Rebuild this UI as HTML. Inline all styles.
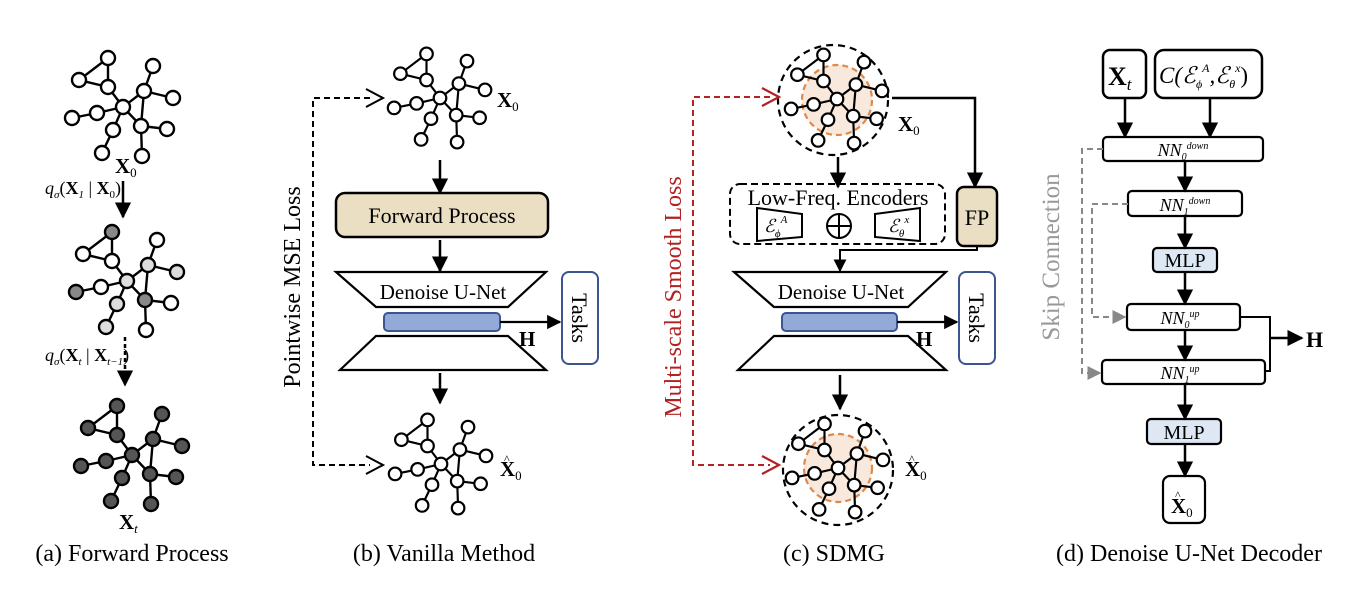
<!DOCTYPE html>
<html><head><meta charset="utf-8"><style>
html,body{margin:0;padding:0;background:#fff;}
svg{display:block;font-family:"Liberation Serif",serif;}
</style></head><body>
<svg width="1372" height="606" viewBox="0 0 1372 606" xmlns="http://www.w3.org/2000/svg">
<defs>
<g id="E" stroke="#000" stroke-width="2.4" fill="none">
<path d="M-15,-49L-44,-27L-15,-20Z M-15,-20L0,0L21,-16L30,-41 M21,-16L50,-9 M21,-16L18,19 M0,0L18,19L44,22 M18,19L19,49 M0,0L-26,6L-51,11 M0,0L-10,23L-21,46"/>
</g>
<g id="NW" fill="#fff" stroke="#000" stroke-width="2.4">
<circle cx="-15" cy="-49" r="7"/><circle cx="-44" cy="-27" r="7"/><circle cx="-15" cy="-20" r="7"/><circle cx="30" cy="-41" r="7"/><circle cx="21" cy="-16" r="7"/><circle cx="50" cy="-9" r="7"/><circle cx="0" cy="0" r="7"/><circle cx="-26" cy="6" r="7"/><circle cx="-51" cy="11" r="7"/><circle cx="-10" cy="23" r="7"/><circle cx="18" cy="19" r="7"/><circle cx="44" cy="22" r="7"/><circle cx="-21" cy="46" r="7"/><circle cx="19" cy="49" r="7"/>
</g>
<marker id="ar" viewBox="0 0 10 10" refX="9" refY="5" markerWidth="6.5" markerHeight="6.5" orient="auto" markerUnits="strokeWidth"><path d="M0,0L10,5L0,10Z" fill="#000"/></marker>
<marker id="ag" viewBox="0 0 10 10" refX="9" refY="5" markerWidth="7" markerHeight="7" orient="auto" markerUnits="strokeWidth"><path d="M0,0L10,5L0,10Z" fill="#888"/></marker>
</defs>

<!-- (a) -->
<g transform="translate(123,107)"><use href="#E"/><use href="#NW"/></g>
<g transform="translate(127,281)"><use href="#E"/>
<g stroke="#000" stroke-width="2.4">
<circle cx="-15" cy="-49" r="7" fill="#888"/><circle cx="-44" cy="-27" r="7" fill="#fff"/><circle cx="-15" cy="-20" r="7" fill="#fff"/><circle cx="30" cy="-41" r="7" fill="#fff"/><circle cx="21" cy="-16" r="7" fill="#ddd"/><circle cx="50" cy="-9" r="7" fill="#ddd"/><circle cx="0" cy="0" r="7" fill="#ddd"/><circle cx="-26" cy="6" r="7" fill="#fff"/><circle cx="-51" cy="11" r="7" fill="#888"/><circle cx="-10" cy="23" r="7" fill="#ddd"/><circle cx="18" cy="19" r="7" fill="#888"/><circle cx="44" cy="22" r="7" fill="#fff"/><circle cx="-21" cy="46" r="7" fill="#ddd"/><circle cx="19" cy="49" r="7" fill="#fff"/>
</g></g>
<g transform="translate(132,455)"><use href="#E"/></g>
<g transform="translate(132,455)" fill="#555" stroke="#000" stroke-width="2.4">
<circle cx="-15" cy="-49" r="7"/><circle cx="-44" cy="-27" r="7"/><circle cx="-15" cy="-20" r="7"/><circle cx="30" cy="-41" r="7"/><circle cx="21" cy="-16" r="7"/><circle cx="50" cy="-9" r="7"/><circle cx="0" cy="0" r="7"/><circle cx="-26" cy="6" r="7"/><circle cx="-51" cy="11" r="7"/><circle cx="-10" cy="23" r="7"/><circle cx="18" cy="19" r="7"/><circle cx="44" cy="22" r="7"/><circle cx="-21" cy="46" r="7"/><circle cx="19" cy="49" r="7"/>
</g>
<text x="115" y="173" font-size="21" font-weight="bold">X<tspan font-size="13" font-weight="normal" dy="4">0</tspan></text>
<text x="45" y="194" font-size="18" font-style="italic">q<tspan font-size="11" dy="4">σ</tspan><tspan dy="-4" font-style="normal">(</tspan><tspan font-weight="bold" font-style="normal">X</tspan><tspan font-size="11" dy="4">1</tspan><tspan dy="-4" font-style="normal"> | </tspan><tspan font-weight="bold" font-style="normal">X</tspan><tspan font-size="11" dy="4" font-style="normal">0</tspan><tspan dy="-4" font-style="normal">)</tspan></text>
<line x1="123" y1="181" x2="123" y2="217" stroke="#000" stroke-width="2.5" marker-end="url(#ar)"/>
<text x="45" y="361" font-size="18" font-style="italic">q<tspan font-size="11" dy="4">σ</tspan><tspan dy="-4" font-style="normal">(</tspan><tspan font-weight="bold" font-style="normal">X</tspan><tspan font-size="11" dy="4">t</tspan><tspan dy="-4" font-style="normal"> | </tspan><tspan font-weight="bold" font-style="normal">X</tspan><tspan font-size="11" dy="4">t−1</tspan><tspan dy="-4" font-style="normal">)</tspan></text>
<line x1="125" y1="337" x2="125" y2="385" stroke="#000" stroke-width="2.5" stroke-dasharray="4,3" marker-end="url(#ar)"/>
<text x="119" y="529" font-size="21" font-weight="bold">X<tspan font-size="13" font-weight="normal" font-style="italic" dy="4">t</tspan></text>

<!-- (b) -->
<g transform="translate(440,98) scale(0.9)"><use href="#E"/><use href="#NW"/></g>
<text x="497" y="107" font-size="21" font-weight="bold">X<tspan font-size="13" font-weight="normal" dy="4">0</tspan></text>
<line x1="440" y1="160" x2="440" y2="193" stroke="#000" stroke-width="2.5" marker-end="url(#ar)"/>
<rect x="336" y="193" width="212" height="44" rx="9" fill="#eadfc2" stroke="#000" stroke-width="2.5"/>
<text x="442" y="223" font-size="22" text-anchor="middle">Forward  Process</text>
<line x1="440" y1="240" x2="440" y2="271" stroke="#000" stroke-width="2.5" marker-end="url(#ar)"/>
<path d="M336,272H546L508,307H376Z" fill="#fff" stroke="#000" stroke-width="2.2"/>
<text x="443" y="299" font-size="21" text-anchor="middle">Denoise U-Net</text>
<rect x="384" y="313" width="116" height="18" rx="4" fill="#93a9d8" stroke="#3b5590" stroke-width="2"/>
<path d="M376,336H508L546,370H340Z" fill="#fff" stroke="#000" stroke-width="2.2"/>
<line x1="500" y1="322" x2="560" y2="322" stroke="#000" stroke-width="2.2" marker-end="url(#ar)"/>
<text x="519" y="346" font-size="21" font-weight="bold">H</text>
<rect x="562" y="272" width="36" height="92" rx="7" fill="#fff" stroke="#3b5590" stroke-width="2"/>
<text font-size="22" transform="translate(572,318) rotate(90)" text-anchor="middle">Tasks</text>
<line x1="440" y1="373" x2="440" y2="403" stroke="#000" stroke-width="2.5" marker-end="url(#ar)"/>
<g transform="translate(441,464) scale(0.9)"><use href="#E"/><use href="#NW"/></g>
<text x="500" y="476" font-size="21" font-weight="bold">X<tspan font-size="13" font-weight="normal" dy="4">0</tspan></text>
<text x="504" y="463" font-size="12">^</text>
<path d="M370,98H313V465H370" fill="none" stroke="#000" stroke-width="2" stroke-dasharray="6,4"/>
<path d="M366,89L383,98L366,107 M366,456L383,465L366,474" fill="none" stroke="#000" stroke-width="2"/>
<text font-size="24" transform="translate(300,287) rotate(-90)" text-anchor="middle">Pointwise MSE Loss</text>

<!-- (c) -->
<circle cx="837" cy="100" r="35" fill="#f9e8dc" stroke="#e0884a" stroke-width="2.2" stroke-dasharray="6,4"/>
<circle cx="833" cy="100" r="55" fill="none" stroke="#000" stroke-width="2.2" stroke-dasharray="7,5"/>
<g transform="translate(837,99) scale(0.9)"><use href="#E"/><use href="#NW"/></g>
<text x="898" y="131" font-size="21" font-weight="bold">X<tspan font-size="13" font-weight="normal" dy="4">0</tspan></text>
<path d="M892,98H975V187" fill="none" stroke="#000" stroke-width="2.5" marker-end="url(#ar)"/>
<line x1="838" y1="157" x2="838" y2="187" stroke="#000" stroke-width="2.5" marker-end="url(#ar)"/>
<rect x="730" y="184" width="215" height="60" rx="10" fill="none" stroke="#000" stroke-width="2" stroke-dasharray="7,4"/>
<text x="838" y="205" font-size="22" text-anchor="middle">Low-Freq. Encoders</text>
<path d="M757,208L802,214V237L757,241Z" fill="#fff" stroke="#000" stroke-width="2"/>
<text x="764" y="232" font-size="18" font-style="italic">ℰ<tspan font-size="11" dy="5">ϕ</tspan><tspan font-size="11" dy="-14">A</tspan></text>
<circle cx="839" cy="226" r="12" fill="none" stroke="#000" stroke-width="2"/>
<path d="M827,226H851M839,214V238" stroke="#000" stroke-width="2"/>
<path d="M875,214L920,208V241L875,237Z" fill="#fff" stroke="#000" stroke-width="2"/>
<text x="888" y="232" font-size="18" font-style="italic">ℰ<tspan font-size="11" dy="5">θ</tspan><tspan font-size="11" dy="-14">x</tspan></text>
<rect x="957" y="187" width="40" height="59" rx="7" fill="#eadfc2" stroke="#000" stroke-width="2.5"/>
<text x="977" y="225" font-size="22" text-anchor="middle">FP</text>
<path d="M977,246V250H840V271" fill="none" stroke="#000" stroke-width="2" marker-end="url(#ar)"/>
<path d="M734,272H946L908,307H774Z" fill="#fff" stroke="#000" stroke-width="2.2"/>
<text x="841" y="299" font-size="21" text-anchor="middle">Denoise U-Net</text>
<rect x="782" y="313" width="115" height="18" rx="4" fill="#93a9d8" stroke="#3b5590" stroke-width="2"/>
<path d="M774,336H908L946,370H738Z" fill="#fff" stroke="#000" stroke-width="2.2"/>
<line x1="897" y1="322" x2="957" y2="322" stroke="#000" stroke-width="2.2" marker-end="url(#ar)"/>
<text x="916" y="346" font-size="21" font-weight="bold">H</text>
<rect x="959" y="272" width="36" height="92" rx="7" fill="#fff" stroke="#3b5590" stroke-width="2"/>
<text font-size="22" transform="translate(969,318) rotate(90)" text-anchor="middle">Tasks</text>
<line x1="840" y1="375" x2="840" y2="409" stroke="#000" stroke-width="2.5" marker-end="url(#ar)"/>
<circle cx="838" cy="468" r="34" fill="#f9e8dc" stroke="#e0884a" stroke-width="2.2" stroke-dasharray="6,4"/>
<circle cx="838" cy="470" r="55" fill="none" stroke="#000" stroke-width="2.2" stroke-dasharray="7,5"/>
<g transform="translate(838,468) scale(0.9)"><use href="#E"/><use href="#NW"/></g>
<text x="905" y="476" font-size="21" font-weight="bold">X<tspan font-size="13" font-weight="normal" dy="4">0</tspan></text>
<text x="909" y="463" font-size="12">^</text>
<path d="M770,97H693V465H770" fill="none" stroke="#b22222" stroke-width="2" stroke-dasharray="6,4"/>
<path d="M762,88L779,97L762,106 M762,456L779,465L762,474" fill="none" stroke="#b22222" stroke-width="2.2"/>
<text font-size="24" fill="#b22222" transform="translate(681,297) rotate(-90)" text-anchor="middle">Multi-scale Smooth Loss</text>

<!-- (d) -->
<rect x="1103" y="50" width="43" height="48" rx="7" fill="#fff" stroke="#000" stroke-width="2.5"/>
<text x="1108" y="85" font-size="26" font-weight="bold">X<tspan font-size="17" font-weight="normal" font-style="italic" dy="5">t</tspan></text>
<rect x="1155" y="50" width="107" height="48" rx="9" fill="#fff" stroke="#000" stroke-width="2.5"/>
<text x="1159" y="83" font-size="23" font-style="italic">C(ℰ<tspan font-size="12" dy="5">ϕ</tspan><tspan font-size="12" dy="-16">A</tspan><tspan dy="11">,ℰ</tspan><tspan font-size="12" dy="5">θ</tspan><tspan font-size="12" dy="-16">x</tspan><tspan dy="11" font-style="normal">)</tspan></text>
<line x1="1125" y1="98" x2="1125" y2="137" stroke="#000" stroke-width="2.5" marker-end="url(#ar)"/>
<line x1="1210" y1="98" x2="1210" y2="137" stroke="#000" stroke-width="2.5" marker-end="url(#ar)"/>
<g fill="#fff" stroke="#000" stroke-width="2.2">
<rect x="1103" y="137" width="160" height="24" rx="4"/>
<rect x="1128" y="191" width="114" height="25" rx="4"/>
<rect x="1153" y="248" width="64" height="24" rx="4" fill="#dde8f4"/>
<rect x="1127" y="304" width="113" height="26" rx="4"/>
<rect x="1102" y="360" width="163" height="24" rx="4"/>
<rect x="1147" y="419" width="74" height="25" rx="4" fill="#dde8f4"/>
<rect x="1163" y="476" width="42" height="47" rx="7"/>
</g>
<g stroke="#000" stroke-width="2.5">
<line x1="1185" y1="161" x2="1185" y2="191" marker-end="url(#ar)"/>
<line x1="1185" y1="216" x2="1185" y2="248" marker-end="url(#ar)"/>
<line x1="1185" y1="273" x2="1185" y2="304" marker-end="url(#ar)"/>
<line x1="1185" y1="330" x2="1185" y2="360" marker-end="url(#ar)"/>
<line x1="1185" y1="384" x2="1185" y2="419" marker-end="url(#ar)"/>
<line x1="1185" y1="444" x2="1185" y2="476" marker-end="url(#ar)"/>
</g>
<path d="M1240,317H1270V371H1265" fill="none" stroke="#000" stroke-width="2"/>
<line x1="1270" y1="338" x2="1302" y2="338" stroke="#000" stroke-width="2.5" marker-end="url(#ar)"/>
<text x="1306" y="347" font-size="22" font-weight="bold">H</text>
<g font-size="18" font-style="italic" text-anchor="middle">
<text x="1183" y="156">NN<tspan font-size="10" dy="4">0</tspan><tspan font-size="10" dy="-11">down</tspan></text>
<text x="1185" y="211">NN<tspan font-size="10" dy="4">1</tspan><tspan font-size="10" dy="-11">down</tspan></text>
<text x="1180" y="324">NN<tspan font-size="10" dy="4">0</tspan><tspan font-size="10" dy="-11">up</tspan></text>
<text x="1180" y="379">NN<tspan font-size="10" dy="4">1</tspan><tspan font-size="10" dy="-11">up</tspan></text>
</g>
<text x="1185" y="267" font-size="20" text-anchor="middle">MLP</text>
<text x="1184" y="439" font-size="20" text-anchor="middle">MLP</text>
<text x="1171" y="513" font-size="21" font-weight="bold">X<tspan font-size="13" font-weight="normal" dy="4">0</tspan></text>
<text x="1175" y="499" font-size="12">^</text>
<path d="M1103,149H1082V373H1100" fill="none" stroke="#888" stroke-width="2" stroke-dasharray="6,4" marker-end="url(#ag)"/>
<path d="M1128,204H1092V317H1125" fill="none" stroke="#888" stroke-width="2" stroke-dasharray="6,4" marker-end="url(#ag)"/>
<text font-size="25" fill="#999" transform="translate(1059,257) rotate(-90)" text-anchor="middle">Skip Connection</text>

<!-- captions -->
<g font-size="24" text-anchor="middle">
<text x="132" y="561">(a) Forward  Process</text>
<text x="444" y="561">(b) Vanilla Method</text>
<text x="834" y="561">(c) SDMG</text>
<text x="1189" y="561">(d) Denoise U-Net Decoder</text>
</g>
</svg>
</body></html>
